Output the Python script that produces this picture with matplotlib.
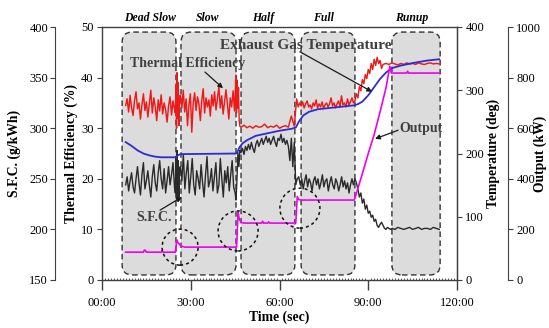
import numpy as np
import matplotlib
matplotlib.use('Agg')
import matplotlib.pyplot as plt
from matplotlib.patches import FancyBboxPatch, Ellipse
from matplotlib.ticker import MultipleLocator

plt.rcParams['font.family'] = ['Liberation Serif', 'DejaVu Serif']

# ---------------- data ----------------
x_ticks = [0, 30, 60, 90, 120]
x_tick_labels = ['00:00', '30:00', '60:00', '90:00', '120:00']

phase_names = ['Dead Slow', 'Slow', 'Half', 'Full', 'Runup']
phase_start = [6.8, 26.7, 47.0, 67.3, 98.0]
phase_end = [25.0, 45.3, 65.2, 85.5, 114.3]
phase_label_x = [16.2, 35.8, 54.4, 74.7, 104.8]

# Thermal efficiency (%) segments: (t_start, t_end, values)
te_segments = [
    (8.0, 24.5, [34.5, 35.8, 33.2, 36.5, 34.0, 32.5, 35.5, 37.2, 33.8, 35.0,
                 31.8, 34.6, 36.8, 33.5, 35.2, 32.2, 34.8, 37.5, 33.0, 36.0,
                 34.2, 31.5, 35.6, 33.4, 36.6, 32.8, 35.0, 33.6, 31.2, 34.4,
                 36.2, 32.6, 35.4, 33.8]),
    (24.8, 26.2, [33.0, 38.5, 30.0, 41.0, 32.0, 39.0, 30.5, 36.0]),
    (26.5, 44.8, [36.5, 34.0, 37.5, 33.2, 35.8, 30.5, 34.6, 36.8, 29.2, 35.0,
                  37.0, 33.5, 36.2, 34.8, 31.5, 35.5, 37.8, 33.0, 36.0, 34.2,
                  35.6, 32.4, 36.6, 34.4, 37.2, 33.6, 35.8, 38.2, 34.0, 36.4,
                  32.8, 35.2, 37.6, 34.6, 31.8, 36.0, 34.2, 37.4, 33.4]),
    (45.0, 46.6, [36.0, 40.5, 33.0, 39.5, 34.0, 38.0, 31.5, 30.4]),
    (47.0, 65.0, [30.2, 30.6, 30.1, 30.4, 30.0, 30.5, 30.2, 30.3, 30.8, 30.1,
                  30.4, 30.2, 30.6, 30.0, 30.3, 30.5, 30.2, 32.4, 30.4]),
    (65.8, 85.0, [35.8, 34.2, 35.0, 34.4, 35.2, 34.0, 34.8, 35.4, 34.2, 34.6,
                  33.8, 35.0, 34.4, 35.6, 34.0, 34.8, 34.2, 35.2, 33.9, 34.6,
                  35.0, 34.2, 34.8, 36.0, 34.4, 35.0, 34.0, 34.8, 35.4, 34.2,
                  36.4, 34.6, 35.0, 34.2, 35.8, 34.6, 35.2, 36.0, 35.0]),
    (85.5, 95.0, [35.4, 36.8, 36.0, 38.2, 37.4, 39.6, 38.8, 40.6, 39.8, 41.6,
                  40.8, 42.8, 41.6, 43.6, 42.4, 44.0, 42.8, 43.4, 41.8, 42.6]),
    (96.0, 114.0, [42.8, 42.6, 42.9, 42.7, 42.5, 42.8, 42.6, 42.9, 42.7, 42.8,
                   42.6, 42.9, 42.7, 42.6, 42.8, 42.9, 42.7, 42.8, 42.7]),
]

# S.F.C. (g/kWh) segments
sfc_segments = [
    (8.0, 24.5, [244, 252, 238, 248, 256, 242, 236, 250, 262, 246,
                 234, 254, 266, 240, 248, 258, 244, 232, 252, 264,
                 246, 238, 256, 268, 250, 240, 260, 236, 248, 262,
                 244, 254, 266, 242]),
    (24.8, 26.2, [236, 272, 230, 278, 228, 268, 232, 260]),
    (26.5, 45.0, [262, 248, 274, 240, 256, 268, 236, 252, 270, 244,
                  234, 258, 250, 240, 264, 246, 232, 254, 272, 242,
                  248, 260, 238, 252, 266, 236, 244, 270, 250, 232,
                  258, 246, 262, 238, 254, 268, 242, 236]),
    (45.3, 46.6, [229, 250, 276, 262, 278]),
    (47.0, 63.0, [276, 280, 274, 282, 278, 284, 279, 286, 280, 276,
                  284, 288, 282, 286, 290, 284, 288, 292, 286, 290,
                  284, 288, 292, 286, 282, 290, 288, 294, 286, 290,
                  284, 288, 282]),
    (63.5, 66.0, [268, 290, 262, 286, 244, 250]),
    (66.5, 85.0, [252, 244, 250, 240, 248, 254, 242, 250, 246, 238,
                  248, 252, 244, 250, 240, 246, 254, 242, 248, 250,
                  238, 246, 252, 244, 240, 250, 246, 238, 244, 252,
                  242, 248, 240, 246, 236, 244, 250, 244]),
    (85.5, 97.5, [250, 246, 240, 232, 236, 226, 230, 220, 224, 216,
                  218, 212, 214, 208, 210, 204, 202, 205, 207, 204,
                  201, 200, 202, 201, 200]),
    (98.0, 114.0, [201, 200, 202, 201, 200, 201, 202, 200, 201, 202,
                   200, 201, 201, 200, 202, 201, 200]),
]

# Exhaust gas temperature (deg)
temp_time = [8, 10, 12, 14, 16, 18, 20, 25, 25.6, 26.5, 45.5, 46.5, 47.5, 49,
             52, 56, 60, 64, 65.5, 66.5, 68, 70, 73, 77, 81, 85, 86.5, 88,
             90, 92, 94, 96, 98, 101, 105, 110, 114]
temp_values = [218, 212, 205, 200, 197, 195, 194, 194, 197, 199, 200, 210, 216, 221,
               228, 232, 236, 239, 241, 250, 260, 266, 270, 272, 274, 276, 278, 282,
               292, 305, 318, 328, 335, 339, 343, 347, 349]

# Output (kW)
out_time = [8, 14, 14.3, 14.6, 15, 20, 20.3, 20.6, 24.8, 25.3, 25.6, 26.2, 27, 28,
            45.5, 46.0, 46.4, 47, 48, 54, 54.3, 54.6, 55, 56, 56.3, 56.6,
            65.5, 66.0, 66.5, 67.5, 85.3, 88, 90, 92, 94, 96, 97.3, 97.8,
            100, 103, 103.3, 103.6, 106, 114]
out_values = [110, 110, 118, 118, 110, 110, 116, 110, 110, 158, 150, 140, 133, 130,
              130, 269, 240, 228, 225, 225, 232, 225, 225, 225, 230, 225,
              225, 330, 318, 316, 316, 420, 500, 575, 665, 760, 845, 818,
              818, 818, 825, 818, 818, 818]

# annotations (in time / thermal-efficiency coordinates)
notes = [
    ('Thermal Efficiency', (29.1, 42.7), (34.8, 41.1), (40.9, 37.9), 10),
    ('Exhaust Gas Temperature', (69.0, 46.4), (66.9, 45.1), (91.3, 37.2), 11),
    ('Output', (107.8, 30.0), (100.1, 29.6), (92.3, 27.9), 10),
    ('S.F.C.', (17.6, 12.3), (19.6, 13.8), (27.0, 16.4), 10),
]
circle_centers = [(26.4, 6.5), (46.0, 9.7), (66.9, 14.2)]
circle_radius_px = [18, 20, 20]


def series(segments):
    t, v = [], []
    for a, b, vals in segments:
        t.extend(np.linspace(a, b, len(vals)))
        v.extend(vals)
    return np.array(t), np.array(v)


te_t, te_v = series(te_segments)
sfc_t, sfc_v = series(sfc_segments)

# ---------------- figure ----------------
W, H = 549, 328
fig = plt.figure(figsize=(W / 100, H / 100), dpi=100)
L, R, T, B = 102, 457, 27, 280
ax = fig.add_axes([L / W, 1 - B / H, (R - L) / W, (B - T) / H])
axw = R - L
px_x = axw / 120.0
px_y = (B - T) / 50.0

spine_col = '#404040'
tick_fs = 9
lab_fs = 9.8

ax.set_xlim(0, 120)
ax.set_ylim(0, 50)

ax_sfc = ax.twinx()
ax_temp = ax.twinx()
ax_out = ax.twinx()

# boxes
for s, e in zip(phase_start, phase_end):
    kw = dict(boxstyle='round,pad=0,rounding_size=3.4', mutation_aspect=px_x / px_y)
    ax.add_patch(FancyBboxPatch((s, 1.0), e - s, 48.0, facecolor='#dcdcdc',
                                edgecolor='none', zorder=0.5, **kw))
    ax.add_patch(FancyBboxPatch((s, 1.0), e - s, 48.0, facecolor='none',
                                edgecolor='#333333', lw=1.0,
                                linestyle=(0, (4, 2.5)), zorder=0.6, **kw))

for name, xc in zip(phase_names, phase_label_x):
    ax.text(xc, 51.7, name, ha='center', va='center', fontsize=8.5,
            fontstyle='italic', fontweight='bold', clip_on=False)

# lines
ax.plot(te_t, te_v, color='#ee1a1a', lw=1.05, zorder=2)
ax_sfc.plot(sfc_t, sfc_v, color='#2a2a2a', lw=1.0)
ax_temp.plot(temp_time, temp_values, color='#2c2cd0', lw=1.3)
ax_out.plot(out_time, out_values, color='#f000f0', lw=1.2)

ax_sfc.set_ylim(150, 400)
ax_temp.set_ylim(0, 400)
ax_out.set_ylim(0, 1000)

# spines
for a in (ax_sfc, ax_temp, ax_out):
    for sp in a.spines.values():
        sp.set_visible(False)
for sp in ax.spines.values():
    sp.set_color(spine_col)
    sp.set_linewidth(1.0)

ax_sfc.spines['left'].set_visible(True)
ax_sfc.spines['left'].set_position(('axes', (55 - L) / axw))
ax_sfc.spines['left'].set_color(spine_col)
ax_sfc.yaxis.set_ticks_position('left')
ax_sfc.yaxis.set_label_position('left')

ax_temp.spines['right'].set_visible(True)
ax_temp.spines['right'].set_color(spine_col)

ax_out.spines['right'].set_visible(True)
ax_out.spines['right'].set_position(('axes', (508 - L) / axw))
ax_out.spines['right'].set_color(spine_col)

# ticks
ax.set_xticks(x_ticks)
ax.set_xticklabels(x_tick_labels)
ax.xaxis.set_minor_locator(MultipleLocator(1))
ax.tick_params(axis='x', which='major', direction='out', length=7, width=1,
               color=spine_col, labelsize=tick_fs, pad=5.5)
ax.tick_params(axis='x', which='minor', direction='in', length=1.6, width=0.6,
               color=spine_col)
ax.yaxis.set_major_locator(MultipleLocator(10))
ax.tick_params(axis='y', direction='out', length=3.5, color=spine_col,
               labelsize=tick_fs, pad=2.5)
ax_sfc.yaxis.set_major_locator(MultipleLocator(50))
ax_sfc.tick_params(axis='y', direction='out', length=3.5, color=spine_col,
                   labelsize=tick_fs, pad=1.5)
ax_temp.yaxis.set_major_locator(MultipleLocator(100))
ax_temp.tick_params(axis='y', direction='out', length=3.5, color=spine_col,
                    labelsize=tick_fs, pad=2.5)
ax_out.yaxis.set_major_locator(MultipleLocator(200))
ax_out.tick_params(axis='y', direction='out', length=3.5, color=spine_col,
                   labelsize=tick_fs, pad=2.5)

# labels
ax.set_xlabel('Time (sec)', fontsize=lab_fs, fontweight='bold')
ax.xaxis.set_label_coords(0.5, -(311 - B) / (B - T))
ax.set_ylabel('Thermal Efficiency (%)', fontsize=lab_fs, fontweight='bold')
ax.yaxis.set_label_coords((78 - L) / axw, 0.5)
ax_sfc.set_ylabel('S.F.C. (g/kWh)', fontsize=lab_fs, fontweight='bold')
ax_sfc.yaxis.set_label_coords((21 - L) / axw, 0.5)
ax_temp.set_ylabel('Temperature (deg)', fontsize=lab_fs, fontweight='bold')
ax_temp.yaxis.set_label_coords((487 - L) / axw, 0.5)
ax_out.set_ylabel('Output (kW)', fontsize=lab_fs, fontweight='bold')
ax_out.yaxis.set_label_coords((534 - L) / axw, 0.5)

# annotations
for text, tpos, start, tip, fs in notes:
    ax_out.text(tpos[0], tpos[1], text, transform=ax.transData, ha='center',
                va='center', fontsize=fs, fontweight='bold', color='#404040',
                zorder=6)
    ax_out.annotate('', xy=tip, xytext=start, xycoords=ax.transData,
                    textcoords=ax.transData,
                    arrowprops=dict(arrowstyle='-|>', color='#1a1a1a', lw=0.9,
                                    mutation_scale=7, shrinkA=0, shrinkB=0),
                    zorder=6)

for (cx, cy), r in zip(circle_centers, circle_radius_px):
    ax_out.add_patch(Ellipse((cx, cy), 2 * r / px_x, 2 * r / px_y,
                             transform=ax.transData, fill=False,
                             edgecolor='#111111', lw=1.1,
                             linestyle=(0, (2, 2)), zorder=6))

fig.savefig('out.png', dpi=100)
